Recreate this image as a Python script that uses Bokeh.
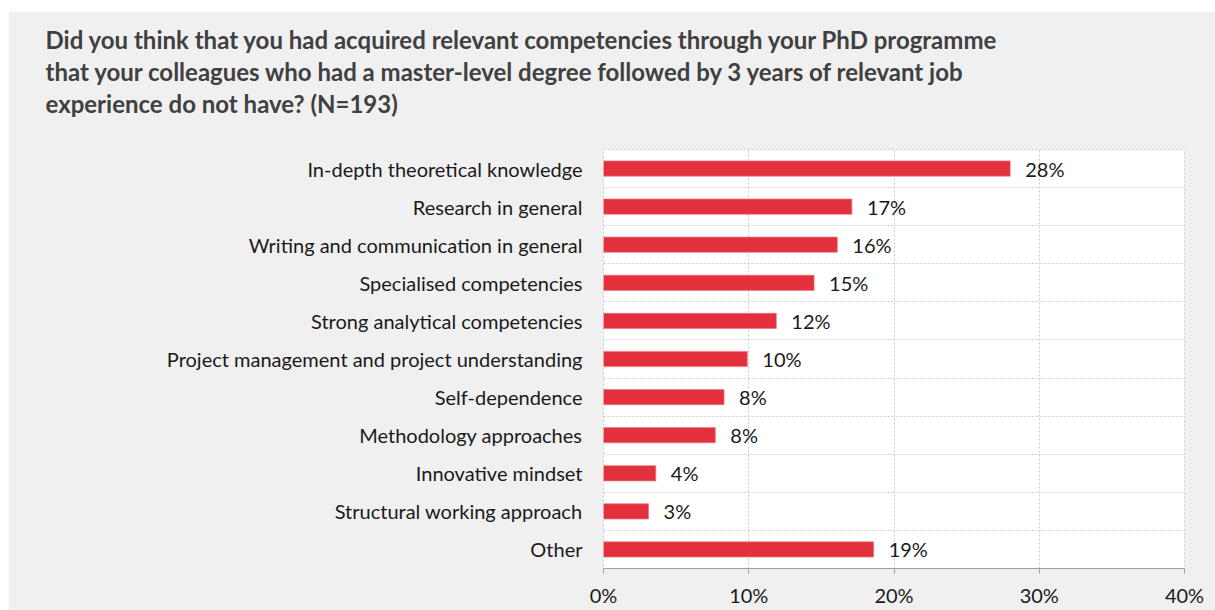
from bokeh.plotting import figure
from bokeh.models import ColumnDataSource, FixedTicker, PrintfTickFormatter, Title, Spacer
from bokeh.layouts import row, column
from bokeh.core.properties import value
from bokeh.embed import file_html
from bokeh.resources import INLINE

# ---- data ----
categories = [
    "In-depth theoretical knowledge",
    "Research in general",
    "Writing and communication in general",
    "Specialised competencies",
    "Strong analytical competencies",
    "Project management and project understanding",
    "Self-dependence",
    "Methodology approaches",
    "Innovative mindset",
    "Structural working approach",
    "Other",
]
values = [28.0, 17.1, 16.1, 14.5, 11.9, 9.9, 8.3, 7.7, 3.6, 3.1, 18.6]
value_labels = ["28%", "17%", "16%", "15%", "12%", "10%", "8%", "8%", "4%", "3%", "19%"]
x_ticks = [0, 10, 20, 30, 40]
title_lines = [
    "Did you think that you had acquired relevant competencies through your PhD programme",
    "that your colleagues who had a master-level degree followed by 3 years of relevant job",
    "experience do not have? (N=193)",
]

FONT = "Lato"
BAR = "#E2313D"
BG = "#F0F0F0"
TXT = "#1A1A1A"

n = len(categories)
ypos = [n - 1 - i for i in range(n)]
src = ColumnDataSource(dict(y=ypos, v=values, lab=value_labels))

W, H = 1207, 599
p = figure(width=W, height=H, output_backend="svg", toolbar_location=None,
           x_range=(0, 40), y_range=(-0.5, n - 0.5),
           min_border_left=595, min_border_right=31, min_border_top=138, min_border_bottom=42)
p.background_fill_color = "white"
p.border_fill_color = BG
p.outline_line_color = "#C8C8C8"
p.outline_line_dash = "2 2"
p.outline_line_width = 1

p.hbar(y="y", right="v", left=0, height=0.4, source=src, fill_color=BAR, line_color="#F07880", line_width=0.7)
p.text(x="v", y="y", text="lab", source=src, x_offset=15, text_align="left", text_baseline="middle",
       text_font_size="20px", text_color=TXT, text_font=value(FONT))

# y axis
p.yaxis.ticker = FixedTicker(ticks=ypos, minor_ticks=[k + 0.5 for k in range(-1, n)])
p.yaxis.major_label_overrides = {y: c for y, c in zip(ypos, categories)}
p.yaxis.axis_line_color = None
p.yaxis.major_tick_line_color = None
p.yaxis.minor_tick_line_color = None
p.yaxis.major_label_text_font = FONT
p.yaxis.major_label_text_font_size = "20px"
p.yaxis.major_label_text_color = TXT
p.yaxis.major_label_standoff = 15
p.ygrid.grid_line_color = None
p.ygrid.minor_grid_line_color = "#C8C8C8"
p.ygrid.minor_grid_line_dash = "2 2"

# x axis
p.xaxis.ticker = FixedTicker(ticks=x_ticks)
p.xaxis.formatter = PrintfTickFormatter(format="%d%%")
p.xaxis.axis_line_color = "#A0A0A0"
p.xaxis.major_tick_line_color = "#A0A0A0"
p.xaxis.major_tick_in = 0
p.xaxis.major_tick_out = 5
p.xaxis.minor_tick_line_color = None
p.xaxis.major_label_text_font = FONT
p.xaxis.major_label_text_font_size = "20px"
p.xaxis.major_label_text_color = TXT
p.xaxis.major_label_standoff = 9
p.xgrid.grid_line_color = "#C8C8C8"
p.xgrid.grid_line_dash = "2 2"

# gap between title block and plot frame
p.add_layout(Title(text=" ", standoff=0, text_font=FONT, text_font_size="24px"), "above")
# title lines: added bottom-up (later titles are stacked further from the frame)
for line in reversed(title_lines):
    p.add_layout(Title(text=line, align="left", offset=-558, standoff=1,
                       text_font=FONT, text_font_size="24px", text_font_style="bold",
                       text_color="#404040", text_line_height=1.0), "above")

layout = row(Spacer(width=8, height=H + 11), column(Spacer(width=W, height=11), p))
open("out.html", "w").write(file_html(layout, INLINE))
